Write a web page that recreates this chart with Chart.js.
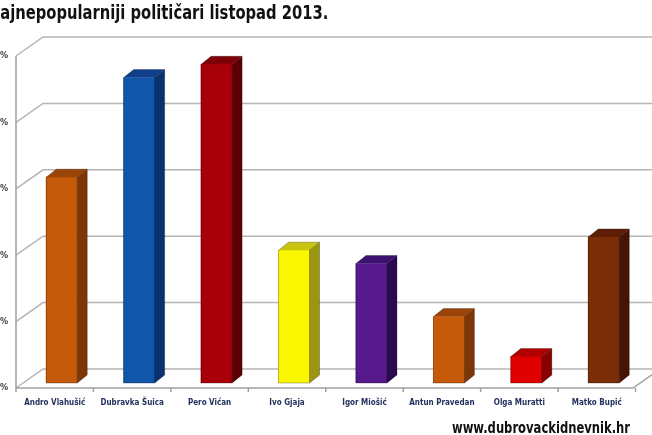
<!DOCTYPE html>
<html>
<head>
<meta charset="utf-8">
<script src="https://cdn.jsdelivr.net/npm/chart.js@4"></script>
<style>
  html, body { margin: 0; padding: 0; background: #fff; }
  body { width: 652px; height: 435px; overflow: hidden; position: relative; }
  #wrap { position: absolute; left: -20px; top: 0; width: 680px; height: 435px; }
  #title { position: absolute; top: 1px; left: 0; white-space: nowrap; transform-origin: 0 0;
    font: bold 19px "DejaVu Sans Condensed", sans-serif; color: #111; }
  #site { position: absolute; top: 418px; left: 452px; white-space: nowrap; transform-origin: 0 0;
    font: bold 16px "DejaVu Sans Condensed", sans-serif; color: #111; }
</style>
</head>
<body>
<div id="wrap"><canvas id="c" width="680" height="435"></canvas></div>
<div id="title"><span id="cut">N</span>ajnepopularniji političari listopad 2013.</div>
<div id="site">www.dubrovackidnevnik.hr</div>
<script>
'use strict';

// data (percent)
var categories = ['Andro Vlahušić', 'Dubravka Šuica', 'Pero Vićan', 'Ivo Gjaja',
    'Igor Miošić', 'Antun Pravedan', 'Olga Muratti', 'Matko Bupić'];
var values = [15.5, 23, 24, 10, 9, 5, 2, 11];
var yTicks = [0, 5, 10, 15, 20, 25];

var frontColors = ['#C55A0B', '#1156A8', '#A80008', '#FAF500', '#561A8C', '#C55A0B', '#E00000', '#7A2E08'];
var sideColors = ['#7E3606', '#0A3170', '#5C0004', '#9A9612', '#2C0A52', '#7E3606', '#880000', '#461404'];
var topColors = ['#9C4408', '#0D4088', '#7E0006', '#C8C410', '#3E1270', '#9C4408', '#B00000', '#5E1E06'];

// squeeze the heading texts to the widths of the original, hide the cropped first letter
function fitText(id, visibleWidth, hidden) {
    var el = document.getElementById(id);
    var full = el.getBoundingClientRect().width;
    var cut = hidden ? document.getElementById(hidden).getBoundingClientRect().width : 0;
    var k = visibleWidth / (full - cut);
    el.style.transform = 'scaleX(' + k + ')';
    if (hidden) el.style.left = (-cut * k) + 'px';
}
fitText('title', 328, 'cut');
fitText('site', 178);

var DX = 10, DY = 8;            // bar depth
var WX = 27, WY = 19;           // wall depth
var FRONT_X = 36;               // front axis line (canvas px)

var frame = {
    id: 'frame',
    beforeDatasetsDraw: function (chart) {
        var ctx = chart.ctx, y = chart.scales.y, area = chart.chartArea;
        ctx.save();
        ctx.lineWidth = 1.5;
        yTicks.forEach(function (v) {
            var py = y.getPixelForValue(v);
            ctx.strokeStyle = '#B5B5B5';
            ctx.beginPath();
            ctx.moveTo(FRONT_X, py + 5);
            ctx.lineTo(FRONT_X + WX, py + 5 - WY);
            ctx.lineTo(chart.width, py + 5 - WY);
            ctx.stroke();
        });
        var y0 = y.getPixelForValue(0) + 5, yTop = y.getPixelForValue(25) + 5;
        ctx.strokeStyle = '#A0A0A0';
        ctx.beginPath();
        ctx.moveTo(FRONT_X, yTop);
        ctx.lineTo(FRONT_X, y0);
        ctx.lineTo(653, y0);
        ctx.lineTo(653 + WX, y0 - WY);
        ctx.stroke();
        // small tick marks on the floor edge
        var w = (area.right - area.left) / categories.length;
        for (var i = 0; i <= categories.length; i++) {
            var tx = area.left + i * w - 7;
            ctx.beginPath();
            ctx.moveTo(tx, y0);
            ctx.lineTo(tx, y0 + 4);
            ctx.stroke();
        }
        ctx.restore();
    },
    afterDatasetsDraw: function (chart) {
        var ctx = chart.ctx, meta = chart.getDatasetMeta(0);
        ctx.save();
        meta.data.forEach(function (bar, i) {
            var x0 = bar.x - bar.width / 2, x1 = bar.x + bar.width / 2;
            var top = bar.y, base = bar.base;
            ctx.fillStyle = sideColors[i];
            ctx.beginPath();
            ctx.moveTo(x1, top);
            ctx.lineTo(x1 + DX, top - DY);
            ctx.lineTo(x1 + DX, base - DY);
            ctx.lineTo(x1, base);
            ctx.closePath();
            ctx.fill();
            ctx.fillStyle = topColors[i];
            ctx.beginPath();
            ctx.moveTo(x0, top);
            ctx.lineTo(x0 + DX, top - DY);
            ctx.lineTo(x1 + DX, top - DY);
            ctx.lineTo(x1, top);
            ctx.closePath();
            ctx.fill();
            ctx.strokeStyle = 'rgba(0,0,0,0.35)';
            ctx.lineWidth = 0.8;
            ctx.beginPath();
            ctx.moveTo(x0, base);
            ctx.lineTo(x0, top);
            ctx.lineTo(x0 + DX, top - DY);
            ctx.lineTo(x1 + DX, top - DY);
            ctx.lineTo(x1 + DX, base - DY);
            ctx.lineTo(x1, base);
            ctx.closePath();
            ctx.moveTo(x1, base);
            ctx.lineTo(x1, top);
            ctx.lineTo(x1 + DX, top - DY);
            ctx.stroke();
        });
        ctx.restore();
    }
};

new Chart(document.getElementById('c'), {
    type: 'bar',
    data: {
        labels: categories,
        datasets: [{
            data: values,
            backgroundColor: frontColors,
            borderWidth: 0,
            barThickness: 31
        }]
    },
    options: {
        responsive: false,
        animation: false,
        devicePixelRatio: 1,
        layout: { padding: { top: 51, right: 17.5, bottom: 0, left: 0 } },
        plugins: { legend: { display: false }, tooltip: { enabled: false } },
        scales: {
            x: {
                grid: { display: false, drawTicks: false },
                border: { display: false },
                afterFit: function (s) { s.height = 52; },
                ticks: {
                    labelOffset: -7,
                    padding: 15,
                    maxRotation: 0,
                    autoSkip: false,
                    color: '#22325E',
                    font: { family: '"DejaVu Sans Condensed", sans-serif', size: 8, weight: 'bold' }
                }
            },
            y: {
                min: 0,
                max: 25,
                grid: { display: false, drawTicks: false },
                border: { display: false },
                afterFit: function (s) { s.width = 43; },
                afterBuildTicks: function (s) {
                    s.ticks = yTicks.map(function (v) { return { value: v }; });
                },
                ticks: {
                    labelOffset: 5,
                    padding: 15,
                    color: '#3A3A3A',
                    callback: function (v) { return v + '%'; },
                    font: { family: '"DejaVu Sans Condensed", sans-serif', size: 9, weight: 'bold' }
                }
            }
        }
    },
    plugins: [frame]
});
</script>
</body>
</html>
